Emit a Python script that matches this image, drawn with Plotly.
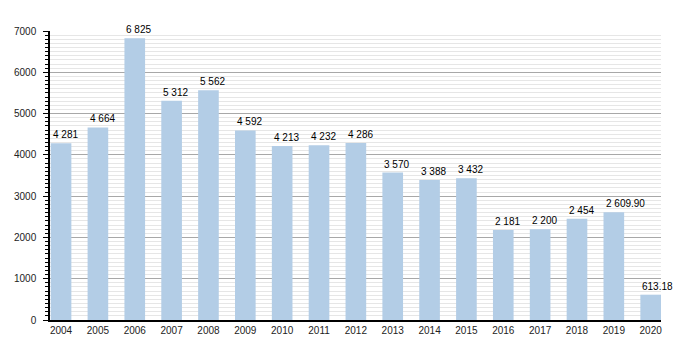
import plotly.graph_objects as go

years = [str(y) for y in range(2004, 2021)]
values = [4281, 4664, 6825, 5312, 5562, 4592, 4213, 4232, 4286, 3570, 3388, 3432,
          2181, 2200, 2454, 2609.90, 613.18]
labels = ["4 281", "4 664", "6 825", "5 312", "5 562", "4 592", "4 213", "4 232", "4 286",
          "3 570", "3 388", "3 432", "2 181", "2 200", "2 454", "2 609.90", "613.18"]
y_ticks = [0, 1000, 2000, 3000, 4000, 5000, 6000, 7000]

BAR_W = 0.56
xs = list(range(len(years)))
fig = go.Figure(go.Bar(
    x=xs, y=values,
    marker=dict(color="#b3cde6", line=dict(width=0)),
    width=BAR_W,
))

for x, v, t in zip(xs, values, labels):
    fig.add_annotation(x=x - BAR_W / 2, y=v, text=t, showarrow=False,
                       xanchor="left", yanchor="bottom", xshift=0, yshift=1,
                       font=dict(family="Liberation Sans, Arial", size=10, color="#000"))

fig.update_layout(
    width=680, height=350,
    margin=dict(l=50, r=19, t=31, b=30),
    plot_bgcolor="white", paper_bgcolor="white",
    showlegend=False,
    font=dict(family="Liberation Sans, Arial", size=10, color="#222"),
)
fig.update_xaxes(
    tickmode="array", tickvals=xs, ticktext=years,
    range=[-0.30, 16.28], showgrid=False, showline=True, linecolor="#000", linewidth=1.5,
    ticks="", tickfont=dict(size=10, color="#222"),
)
fig.update_yaxes(
    range=[0, 7000], tickmode="array", tickvals=y_ticks, ticktext=[str(v) for v in y_ticks],
    showline=True, linecolor="#000", linewidth=1.5,
    ticks="outside", ticklen=5, tickcolor="#000", tickwidth=1,
    showgrid=True, gridcolor="#a8a8a8", gridwidth=1, zeroline=False,
    minor=dict(dtick=100, ticks="outside", ticklen=3, tickcolor="#000",
               showgrid=True, gridcolor="#e6e6e6", gridwidth=1),
    tickfont=dict(size=10, color="#222"), ticklabelstandoff=5,
)

fig.write_html("out.html")
